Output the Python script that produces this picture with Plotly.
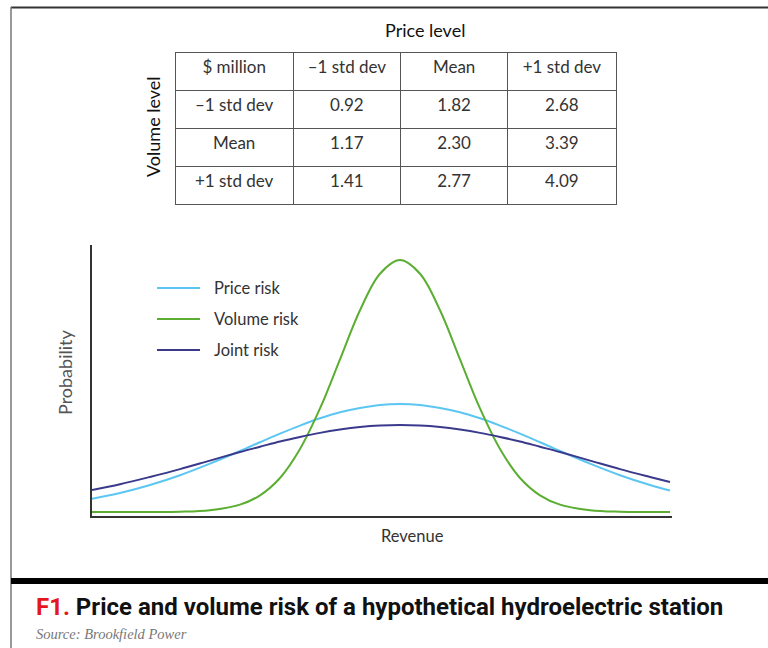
import plotly.graph_objects as go

# the page body margin is removed after drawing, so the figure fills the 768x648 window
OFF = 0
W, H = 768 - OFF, 648 - OFF

# ---- table data ----
col_headers = ["$ million", "–1 std dev", "Mean", "+1 std dev"]
row_labels = ["–1 std dev", "Mean", "+1 std dev"]
price_minus = ["0.92", "1.17", "1.41"]
price_mean = ["1.82", "2.30", "2.77"]
price_plus = ["2.68", "3.39", "4.09"]

# ---- curve data (revenue offset from mean, relative probability) ----
revenue = [-3.08, -2.80, -2.50, -2.20, -1.90, -1.60, -1.40, -1.20, -1.00, -0.80, -0.60, -0.40, -0.20, 0.00,
           0.20, 0.40, 0.60, 0.80, 1.00, 1.20, 1.40, 1.60, 1.90, 2.20, 2.50, 2.70]
price_risk = [5.2, 7.5, 10.7, 14.6, 19.2, 24.2, 27.7, 31.1, 34.3, 37.2, 39.6, 41.3, 42.5, 42.9,
              42.5, 41.3, 39.6, 37.2, 34.3, 31.1, 27.7, 24.2, 19.2, 14.6, 10.7, 8.5]
volume_risk = [0.0, 0.0, 0.02, 0.1, 0.7, 2.9, 6.6, 13.5, 25.0, 41.1, 60.6, 80.1, 94.6, 100.0,
               94.6, 80.1, 60.6, 41.1, 25.0, 13.5, 6.6, 2.9, 0.7, 0.1, 0.02, 0.0]
joint_risk = [8.7, 11.0, 13.9, 17.0, 20.4, 23.8, 25.9, 28.0, 29.8, 31.4, 32.7, 33.7, 34.3, 34.5,
              34.3, 33.7, 32.7, 31.4, 29.8, 28.0, 25.9, 23.8, 20.4, 17.0, 13.9, 11.9]

series_names = ["Price risk", "Volume risk", "Joint risk"]
series_colors = ["#5CC6F2", "#5BAE32", "#3A3A8C"]
series_values = [price_risk, volume_risk, joint_risk]


def px_x(p):
    return (p - OFF) / W


def px_y(p):
    return 1 - (p - OFF) / H


fig = go.Figure()

for name, color, vals in zip(series_names, series_colors, series_values):
    fig.add_trace(go.Scatter(
        x=revenue, y=vals, mode="lines", name=name,
        line=dict(color=color, width=2, shape="spline", smoothing=1.0),
        showlegend=False, hoverinfo="skip",
    ))

table_font = "Lato, 'Open Sans', sans-serif"
fig.add_trace(go.Table(
    domain=dict(x=[px_x(175), px_x(616)], y=[px_y(206), px_y(52)]),
    columnwidth=[118, 107, 107, 108],
    header=dict(values=col_headers, height=38, align="center",
                fill_color="white", line=dict(color="#555", width=1),
                font=dict(family=table_font, size=17, color="#333")),
    cells=dict(values=[row_labels, price_minus, price_mean, price_plus], height=38,
               align="center", fill_color="white", line=dict(color="#555", width=1),
               font=dict(family=table_font, size=17, color="#333")),
))

shapes = [
    # frame lines
    dict(type="line", xref="paper", yref="paper", x0=px_x(11), x1=1.01, y0=px_y(7.5), y1=px_y(7.5),
         line=dict(color="#333", width=2)),
    dict(type="line", xref="paper", yref="paper", x0=px_x(11), x1=px_x(11), y0=px_y(7), y1=-0.01,
         line=dict(color="#777", width=1.5)),
    dict(type="line", xref="paper", yref="paper", x0=px_x(11), x1=1.01, y0=px_y(581), y1=px_y(581),
         line=dict(color="#000", width=6)),
]
annotations = [
    dict(text="Price level", xref="paper", yref="paper", x=px_x(425), y=px_y(30),
         showarrow=False, font=dict(family=table_font, size=18, color="#111"),
         xanchor="center", yanchor="middle"),
    dict(text="Volume level", xref="paper", yref="paper", x=px_x(153), y=px_y(127),
         showarrow=False, textangle=-90, font=dict(family=table_font, size=18, color="#111"),
         xanchor="center", yanchor="middle"),
    dict(text="Probability", xref="paper", yref="paper", x=px_x(65), y=px_y(373),
         showarrow=False, textangle=-90, font=dict(family=table_font, size=18, color="#555"),
         xanchor="center", yanchor="middle"),
    dict(text="Revenue", xref="paper", yref="paper", x=px_x(412), y=px_y(536),
         showarrow=False, font=dict(family=table_font, size=16.5, color="#333"),
         xanchor="center", yanchor="middle"),
    dict(text="<span style='color:#E3171C'>F1.</span> Price and volume risk of a hypothetical hydroelectric station",
         xref="paper", yref="paper", x=px_x(34), y=px_y(607), showarrow=False,
         font=dict(family="'Liberation Sans Narrow', 'Roboto', sans-serif", size=24, color="#111", weight="bold"),
         xanchor="left", yanchor="middle"),
    dict(text="<i>Source: Brookfield Power</i>", xref="paper", yref="paper", x=px_x(34), y=px_y(634),
         showarrow=False, font=dict(family="'Liberation Serif', serif", size=14.5, color="#777"),
         xanchor="left", yanchor="middle"),
]

# legend samples
legend_rows = [288, 319, 350]
for name, color, yy in zip(series_names, series_colors, legend_rows):
    shapes.append(dict(type="line", xref="paper", yref="paper", x0=px_x(157), x1=px_x(200),
                       y0=px_y(yy), y1=px_y(yy), line=dict(color=color, width=2)))
    annotations.append(dict(text=name, xref="paper", yref="paper", x=px_x(212), y=px_y(yy),
                            showarrow=False, xanchor="left", yanchor="middle",
                            font=dict(family=table_font, size=16.5, color="#333")))

fig.update_layout(
    width=W, height=H,
    margin=dict(l=0, r=0, t=0, b=0),
    paper_bgcolor="white", plot_bgcolor="white",
    showlegend=False,
    xaxis=dict(domain=[px_x(92), px_x(672)], range=[-3.08, 2.72], showgrid=False, zeroline=False,
               showticklabels=False, ticks="", showline=True, linecolor="#333", linewidth=1.5),
    yaxis=dict(domain=[px_y(516), px_y(245)], range=[-1.6, 106], showgrid=False, zeroline=False,
               showticklabels=False, ticks="", showline=True, linecolor="#333", linewidth=1.5),
    shapes=shapes,
    annotations=annotations,
)

fig.write_html(
    "out.html",
    config={"displayModeBar": False},
    post_script=("document.body.style.margin='0';"
                 "document.documentElement.style.overflow='hidden';"
                 "document.body.style.overflow='hidden';"),
)
